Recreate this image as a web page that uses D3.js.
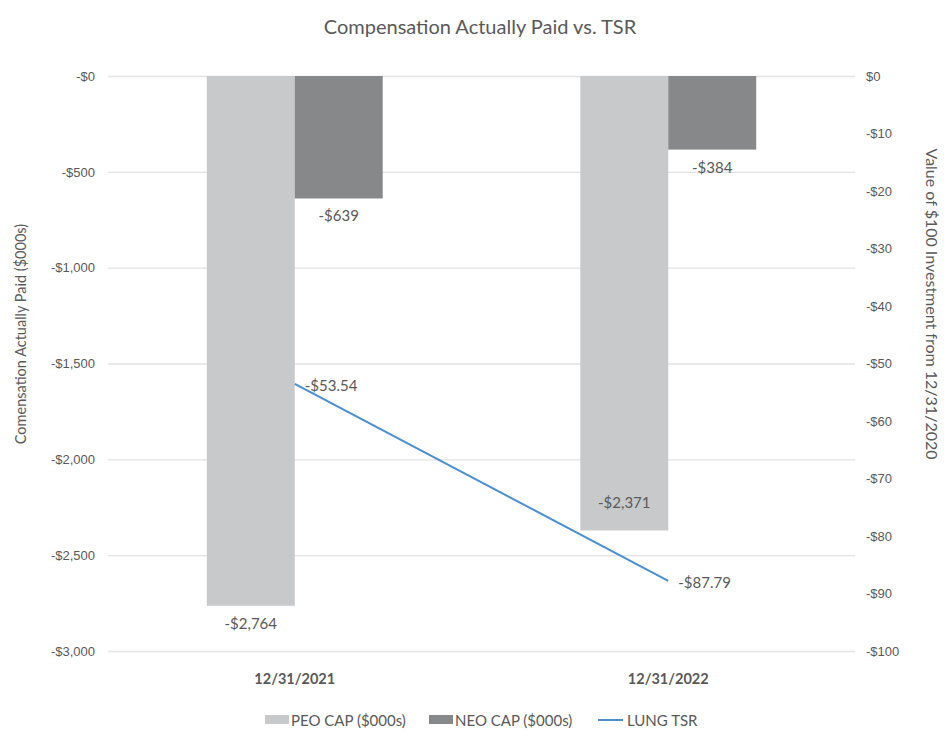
<!DOCTYPE html>
<html><head><meta charset="utf-8">
<script src="https://cdn.jsdelivr.net/npm/d3@7"></script>
<style>body{margin:0;background:#fff}svg{display:block;font-family:Lato,"Open Sans",sans-serif}</style>
</head><body>
<svg id="c" width="945" height="736"></svg>
<script>
const categories = ["12/31/2021", "12/31/2022"];
const seriesNames = ["PEO CAP ($000s)", "NEO CAP ($000s)"];
const peoCap = [-2764, -2371];
const neoCap = [-639, -384];
const tsr = [-53.54, -87.79];
const lineName = "LUNG TSR";
const leftTicks = [0, -500, -1000, -1500, -2000, -2500, -3000];
const leftTickLabels = ["-$0", "-$500", "-$1,000", "-$1,500", "-$2,000", "-$2,500", "-$3,000"];
const rightTicks = [0, -10, -20, -30, -40, -50, -60, -70, -80, -90, -100];
const rightTickLabels = ["$0", "-$10", "-$20", "-$30", "-$40", "-$50", "-$60", "-$70", "-$80", "-$90", "-$100"];
const barLabels = [["-$2,764", "-$2,371"], ["-$639", "-$384"]];
const lineLabels = ["-$53.54", "-$87.79"];

const colors = ["#c8c9cb", "#87888a"];
const lineColor = "#4a8fd0";
const textColor = "#595959";

const svg = d3.select("#c");
const L = 108, R = 855, T = 76, B = 651;

const x0 = d3.scaleBand().domain(categories).range([L, R]).paddingInner(0.529).paddingOuter(0.2645);
const x1 = d3.scaleBand().domain(seriesNames).range([0, x0.bandwidth()]);
const yL = d3.scaleLinear().domain([-3000, 0]).range([B, T]);
const yR = d3.scaleLinear().domain([-100, 0]).range([B, T]);

// title
svg.append("text").attr("x", 480).attr("y", 34).attr("text-anchor", "middle")
  .attr("font-size", 20).attr("fill", textColor).text("Compensation Actually Paid vs. TSR");

// gridlines + left axis
const gL = svg.append("g").attr("transform", `translate(${L},0)`)
  .call(d3.axisLeft(yL).tickValues(leftTicks).tickSize(-(R - L)).tickFormat((d, i) => leftTickLabels[i]));
gL.select(".domain").remove();
gL.selectAll(".tick line").attr("stroke", "#e3e3e3").attr("stroke-width", 1.3);
gL.selectAll(".tick text").attr("x", -13).attr("fill", textColor).attr("font-size", 13);

const gR = svg.append("g").attr("transform", `translate(${R},0)`)
  .call(d3.axisRight(yR).tickValues(rightTicks).tickSize(0).tickFormat((d, i) => rightTickLabels[i]));
gR.select(".domain").remove();
gR.selectAll(".tick text").attr("x", 11).attr("fill", textColor).attr("font-size", 13);

// axis titles
svg.append("text").attr("transform", `translate(26,334) rotate(-90)`).attr("text-anchor", "middle")
  .attr("font-size", 14.5).attr("fill", textColor).text("Comensation Actually Paid ($000s)");
svg.append("text").attr("transform", `translate(926,304) rotate(90)`).attr("text-anchor", "middle")
  .attr("font-size", 16).attr("fill", textColor).text("Value of $100 Investment from 12/31/2020");

// bars
const seriesData = [peoCap, neoCap];
seriesData.forEach((vals, s) => {
  svg.append("g").selectAll("rect").data(vals).join("rect")
    .attr("x", (d, i) => x0(categories[i]) + x1(seriesNames[s]))
    .attr("width", x1.bandwidth())
    .attr("y", yL(0))
    .attr("height", d => yL(d) - yL(0))
    .attr("fill", colors[s]);
});

// labels
const lbl = (x, y, t, anchor) => svg.append("text").attr("x", x).attr("y", y).attr("text-anchor", anchor || "middle")
  .attr("dominant-baseline", "central").attr("font-size", 15).attr("fill", textColor).text(t);
lbl(x0(categories[0]) + x1(seriesNames[0]) + x1.bandwidth() / 2, yL(peoCap[0]) + 17, barLabels[0][0]);
lbl(x0(categories[1]) + x1(seriesNames[0]) + x1.bandwidth() / 2, yL(peoCap[1]) - 28, barLabels[0][1]);
neoCap.forEach((v, i) => lbl(x0(categories[i]) + x1(seriesNames[1]) + x1.bandwidth() / 2, yL(v) + 17, barLabels[1][i]));

// line
const cx = c => x0(c) + x0.bandwidth() / 2;
svg.append("path").datum(tsr)
  .attr("d", d3.line().x((d, i) => cx(categories[i])).y(d => yR(d)))
  .attr("fill", "none").attr("stroke", lineColor).attr("stroke-width", 2);
tsr.forEach((v, i) => lbl(cx(categories[i]) + 10, yR(v) + 1, lineLabels[i], "start"));

// category labels
categories.forEach(c => svg.append("text").attr("x", cx(c)).attr("y", 678).attr("text-anchor", "middle")
  .attr("dominant-baseline", "central")
  .attr("font-size", 14.5).attr("font-weight", "bold").attr("fill", textColor).text(c));

// legend
const lg = svg.append("g").attr("font-size", 15).attr("fill", textColor);
const legendItems = [
  {x: 265, type: "rect", color: colors[0], name: seriesNames[0]},
  {x: 429, type: "rect", color: colors[1], name: seriesNames[1]},
  {x: 598, type: "line", color: lineColor, name: lineName}
];
legendItems.forEach(it => {
  if (it.type === "rect") lg.append("rect").attr("x", it.x).attr("y", 715).attr("width", 24).attr("height", 9).attr("fill", it.color);
  else lg.append("line").attr("x1", it.x).attr("x2", it.x + 25).attr("y1", 720).attr("y2", 720).attr("stroke", it.color).attr("stroke-width", 2);
  lg.append("text").attr("x", it.x + (it.type === "line" ? 29 : 26)).attr("y", 720).attr("dominant-baseline", "central").attr("fill", textColor).text(it.name);
});
</script>
</body></html>
